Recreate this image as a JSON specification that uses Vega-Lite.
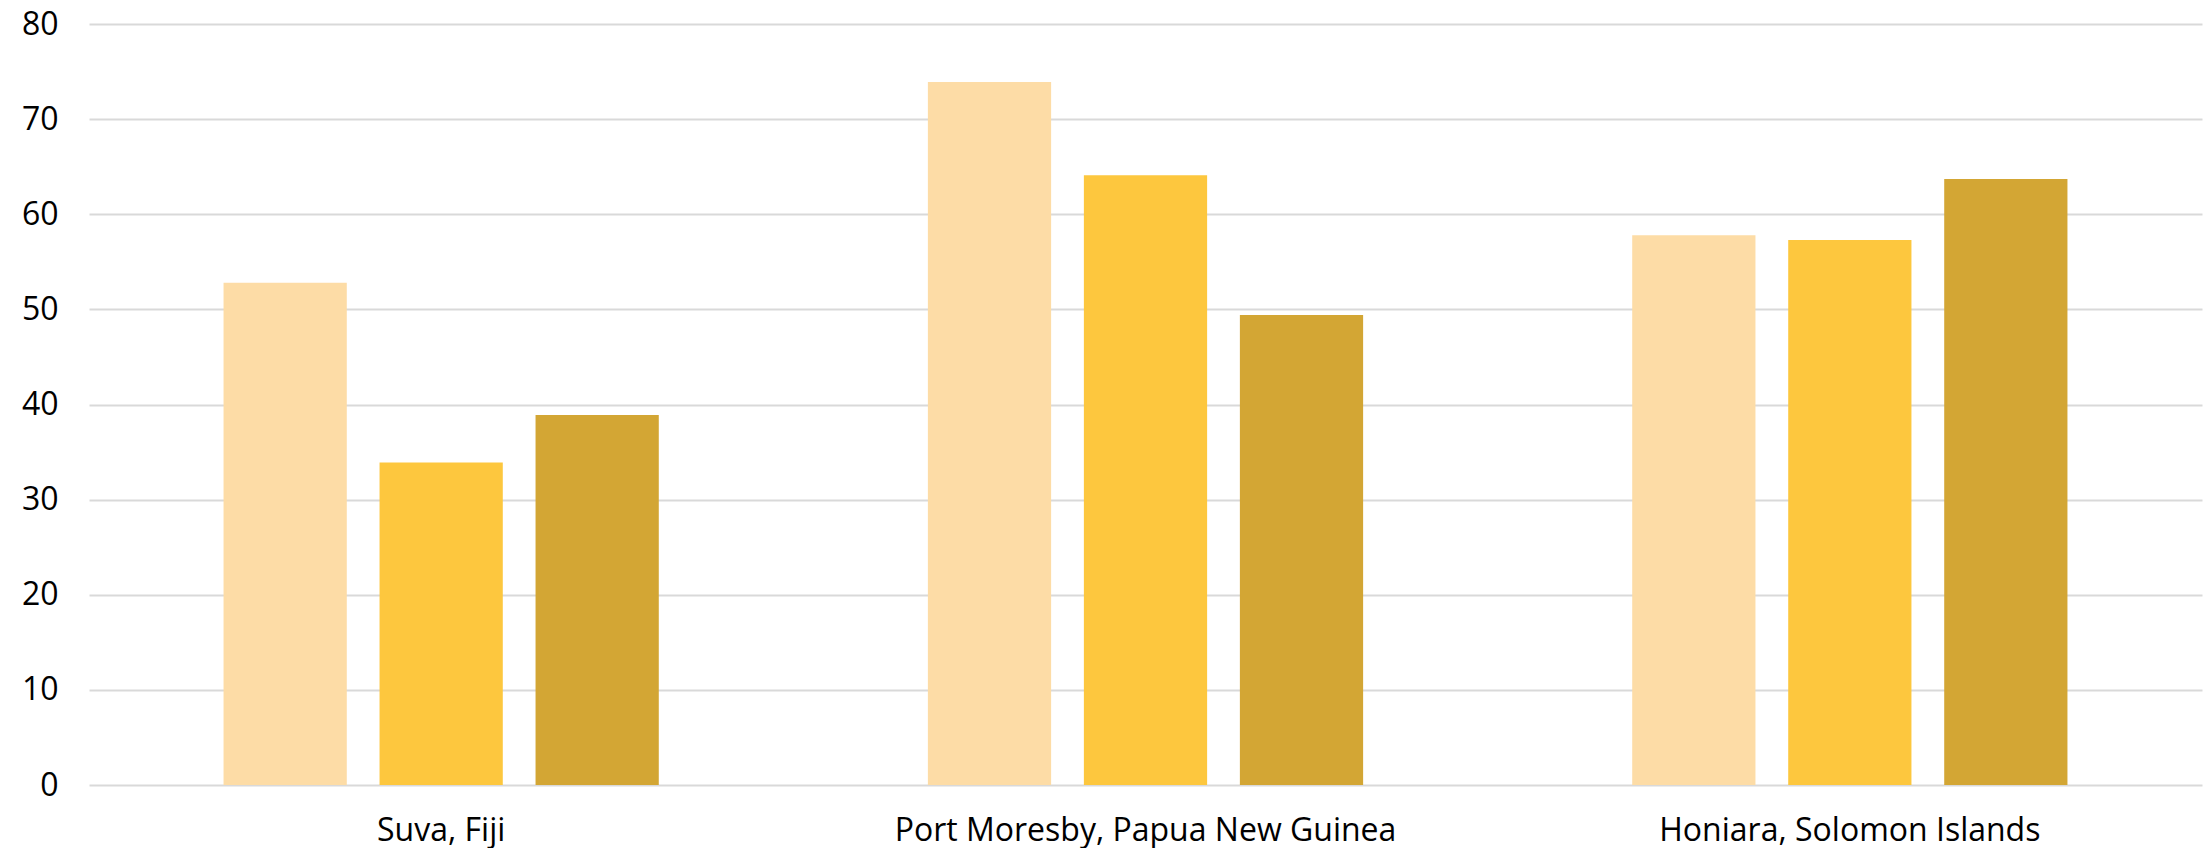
{
  "$schema": "https://vega.github.io/schema/vega-lite/v6.json",
  "autosize": {"type": "none"},
  "padding": {"left": 89, "top": 24, "right": 7, "bottom": 63},
  "width": 2113,
  "height": 761,
  "background": "white",
  "config": {
    "view": {"stroke": null},
    "font": "Open Sans"
  },
  "data": {
    "values": [
      {"city": "Suva, Fiji", "series": "A", "value": 52.8},
      {"city": "Suva, Fiji", "series": "B", "value": 33.9},
      {"city": "Suva, Fiji", "series": "C", "value": 38.9},
      {"city": "Port Moresby, Papua New Guinea", "series": "A", "value": 73.9},
      {"city": "Port Moresby, Papua New Guinea", "series": "B", "value": 64.1},
      {"city": "Port Moresby, Papua New Guinea", "series": "C", "value": 49.4},
      {"city": "Honiara, Solomon Islands", "series": "A", "value": 57.8},
      {"city": "Honiara, Solomon Islands", "series": "B", "value": 57.3},
      {"city": "Honiara, Solomon Islands", "series": "C", "value": 63.7}
    ]
  },
  "mark": {"type": "bar"},
  "encoding": {
    "x": {
      "field": "city",
      "type": "nominal",
      "sort": null,
      "scale": {"paddingInner": 0, "paddingOuter": 0},
      "axis": {
        "title": null,
        "labelAngle": 0,
        "labelFontSize": 32,
        "labelFont": "Open Sans",
        "labelLimit": 0,
        "labelColor": "#000000",
        "labelPadding": 30,
        "ticks": false,
        "domain": false,
        "grid": false
      }
    },
    "xOffset": {
      "field": "series",
      "type": "nominal",
      "scale": {"paddingInner": 0.21, "paddingOuter": 0.8625}
    },
    "y": {
      "field": "value",
      "type": "quantitative",
      "scale": {"domain": [0, 80]},
      "axis": {
        "title": null,
        "values": [0, 10, 20, 30, 40, 50, 60, 70, 80],
        "labelFontSize": 32,
        "labelFont": "Open Sans",
        "labelColor": "#000000",
        "labelPadding": 31,
        "ticks": false,
        "domain": false,
        "grid": true,
        "gridColor": "#d9d9d9",
        "gridWidth": 2
      }
    },
    "color": {
      "field": "series",
      "type": "nominal",
      "scale": {"domain": ["A", "B", "C"], "range": ["#FDDCA6", "#FDC73E", "#D3A634"]},
      "legend": null
    }
  }
}
